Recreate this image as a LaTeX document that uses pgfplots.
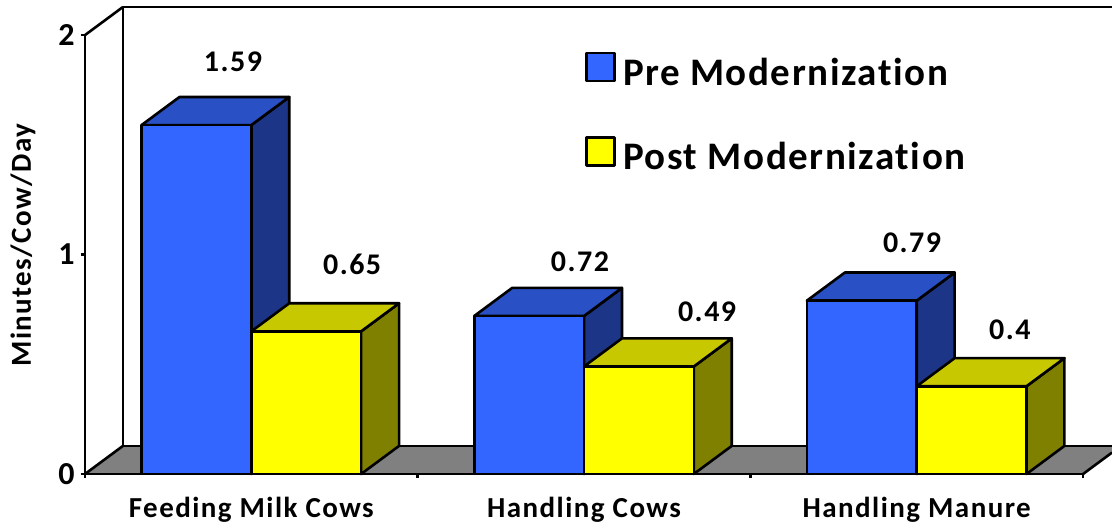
\documentclass[border=0pt]{standalone}
\usepackage{pgfplots}
\pgfplotsset{compat=1.18}
\usepackage{fontspec}
\setmainfont{Carlito}[Ligatures=NoCommon]
\newfontfamily\lsA{Carlito}[LetterSpace=5,Ligatures=NoCommon]
\newfontfamily\lsB{Carlito}[LetterSpace=5,Ligatures=NoCommon]
\newfontfamily\lsC{Carlito}[LetterSpace=4,Ligatures=NoCommon]
\definecolor{bfront}{RGB}{51,102,255}
\definecolor{btop}{RGB}{41,80,196}
\definecolor{bside}{RGB}{29,53,135}
\definecolor{yfront}{RGB}{255,255,0}
\definecolor{ytop}{RGB}{200,200,0}
\definecolor{yside}{RGB}{128,128,0}
\definecolor{floorgray}{RGB}{128,128,128}
\begin{document}
\begin{tikzpicture}
\begin{axis}[
  name=ax,
  scale only axis,
  width=513.5pt, height=233.5pt,
  xmin=0, xmax=3.087, ymin=0, ymax=2.128,
  clip=false,
  axis lines*=left,
  axis line style={draw=none},
  tick align=outside,
  tick style={line width=1.3pt, black},
  ytick={0,1,2},
  yticklabels={0,1,2},
  y tick label style={font=\lsB\bfseries\fontsize{16}{19}\selectfont, inner sep=1pt, xshift=-2pt},
  major tick length=2pt,
  xtick={0,1,2,3},
  xticklabels={},
  extra x ticks={0.5,1.5,2.5},
  extra x tick labels={Feeding Milk Cows,Handling Cows,Handling Manure},
  extra x tick style={major tick length=0pt, tick style={draw=none}},
  x tick label style={font=\lsA\bfseries\fontsize{14.5}{17}\selectfont, anchor=north, yshift=-8pt},
  /pgf/number format/assume math mode=true,
  every axis y label/.style={at={(axis description cs:-0.0604,0.49)}, rotate=90, anchor=center},
  ylabel={Minutes/Cow/Day},
  ylabel style={font=\lsA\bfseries\fontsize{14.5}{17}\selectfont},
  legend style={at={(axis description cs:0.4869,0.905)}, anchor=north west, draw=none, fill=none,
    inner sep=0pt, nodes={inner sep=0pt}, row sep=24pt, column sep=3.5pt,
    font=\lsC\bfseries\fontsize{19.5}{22}\selectfont},
  legend cell align=left,
]
% floor
\addplot[fill=floorgray, draw=none, forget plot] coordinates {(0,0) (3,0) (3.087,0.0977) (3.087,0.128) (0.114,0.128)} --cycle;
\addplot[black, line width=1.3pt, line join=round, forget plot] coordinates {(0.114,0.128) (3.087,0.128)};
\addplot[black, line width=1.3pt, line join=round, forget plot] coordinates {(3,0) (3.087,0.0977)};
\addplot[black, line width=1.3pt, line join=round, forget plot] coordinates {(0,0) (0.114,0.128)};
% back wall
\addplot[black, line width=1.3pt, line join=round, forget plot] coordinates {(0.114,0.128) (0.114,2.128) (3.087,2.128)};
\addplot[black, line width=1.3pt, line join=round, forget plot] coordinates {(0,2) (0.114,2.128)};
% front axes
\addplot[black, line width=1.3pt, line join=round, forget plot] coordinates {(0,2) (0,0) (3,0)};
% x tick marks
\addplot[black, line width=1.3pt, forget plot] coordinates {(0,0) (0,-0.018)};
\addplot[black, line width=1.3pt, forget plot] coordinates {(1,0) (1,-0.018)};
\addplot[black, line width=1.3pt, forget plot] coordinates {(2,0) (2,-0.018)};
\addplot[black, line width=1.3pt, forget plot] coordinates {(3,0) (3,-0.018)};
% ---- bars ----
\pgfplotsset{every axis plot/.append style={draw=black, line width=1.3pt, line join=round, forget plot}}
% Feeding Milk Cows: Pre 1.59
\addplot[fill=bside] coordinates {(0.5,0) (0.614,0.128) (0.614,1.718) (0.5,1.59)} --cycle;
\addplot[fill=btop] coordinates {(0.17,1.59) (0.5,1.59) (0.614,1.718) (0.284,1.718)} --cycle;
\addplot[fill=bfront] coordinates {(0.17,0) (0.5,0) (0.5,1.59) (0.17,1.59)} --cycle;
% Post 0.65
\addplot[fill=yside] coordinates {(0.83,0) (0.944,0.128) (0.944,0.778) (0.83,0.65)} --cycle;
\addplot[fill=ytop] coordinates {(0.5,0.65) (0.83,0.65) (0.944,0.778) (0.614,0.778)} --cycle;
\addplot[fill=yfront] coordinates {(0.5,0) (0.83,0) (0.83,0.65) (0.5,0.65)} --cycle;
% Handling Cows: Pre 0.72
\addplot[fill=bside] coordinates {(1.5,0) (1.614,0.128) (1.614,0.848) (1.5,0.72)} --cycle;
\addplot[fill=btop] coordinates {(1.17,0.72) (1.5,0.72) (1.614,0.848) (1.284,0.848)} --cycle;
\addplot[fill=bfront] coordinates {(1.17,0) (1.5,0) (1.5,0.72) (1.17,0.72)} --cycle;
% Post 0.49
\addplot[fill=yside] coordinates {(1.83,0) (1.944,0.128) (1.944,0.618) (1.83,0.49)} --cycle;
\addplot[fill=ytop] coordinates {(1.5,0.49) (1.83,0.49) (1.944,0.618) (1.614,0.618)} --cycle;
\addplot[fill=yfront] coordinates {(1.5,0) (1.83,0) (1.83,0.49) (1.5,0.49)} --cycle;
% Handling Manure: Pre 0.79
\addplot[fill=bside] coordinates {(2.5,0) (2.614,0.128) (2.614,0.918) (2.5,0.79)} --cycle;
\addplot[fill=btop] coordinates {(2.17,0.79) (2.5,0.79) (2.614,0.918) (2.284,0.918)} --cycle;
\addplot[fill=bfront] coordinates {(2.17,0) (2.5,0) (2.5,0.79) (2.17,0.79)} --cycle;
% Post 0.4
\addplot[fill=yside] coordinates {(2.83,0) (2.944,0.128) (2.944,0.528) (2.83,0.4)} --cycle;
\addplot[fill=ytop] coordinates {(2.5,0.4) (2.83,0.4) (2.944,0.528) (2.614,0.528)} --cycle;
\addplot[fill=yfront] coordinates {(2.5,0) (2.83,0) (2.83,0.4) (2.5,0.4)} --cycle;
% value labels
\addplot[draw=none, mark=none, nodes near coords, point meta=explicit symbolic,
  every node near coord/.append style={anchor=center, inner sep=0pt, font=\lsB\bfseries\fontsize{15}{18}\selectfont}]
  table[meta=label] {
x y label
0.445 1.877 1.59
0.803 0.957 0.65
1.488 0.966 0.72
1.870 0.738 0.49
2.486 1.052 0.79
2.780 0.656 0.4
};
% legend
\addlegendimage{legend image code/.code={\draw[fill=bfront, draw=black, line width=1.3pt] (0pt,-4pt) rectangle (14pt,10pt);}}
\addlegendentry{Pre Modernization}
\addlegendimage{legend image code/.code={\draw[fill=yfront, draw=black, line width=1.3pt] (0pt,-4pt) rectangle (14pt,10pt);}}
\addlegendentry{Post Modernization}
\end{axis}
\pgfresetboundingbox
\path ([xshift=-42.5pt,yshift=-28.5pt]ax.south west) rectangle ([yshift=3.5pt]ax.north east);
\end{tikzpicture}
\end{document}
